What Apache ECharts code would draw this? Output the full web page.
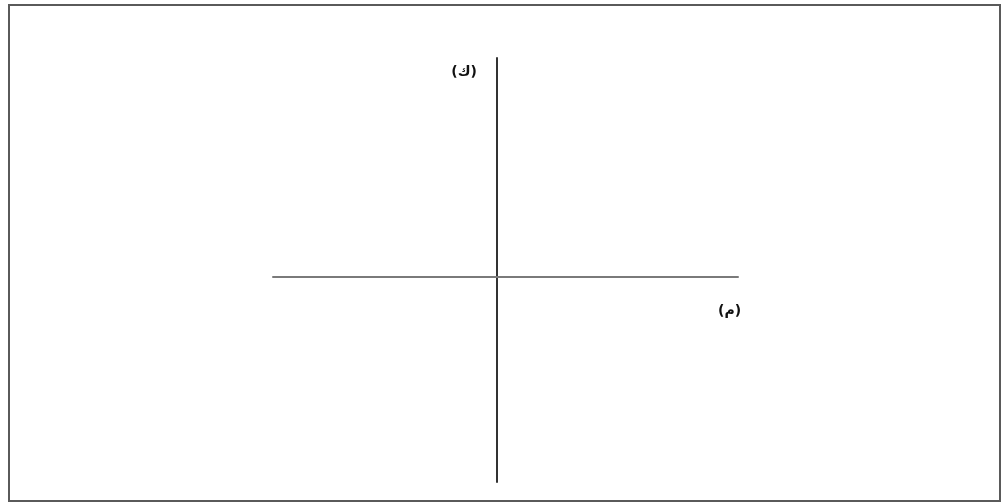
<!DOCTYPE html>
<html>
<head>
<meta charset="utf-8">
<style>
    html, body { margin: 0; padding: 0; background: #fff; }
    #chart { width: 1004px; height: 504px; }
</style>
<script src="https://cdn.jsdelivr.net/npm/echarts@6/dist/echarts.min.js"></script>
</head>
<body>
<div id="chart"></div>
<script>
    // axis extents (the origin sits off-centre in the picture)
    var xRange = [-224, 241];
    var yRange = [-205, 219];
    var xName = '(م)';
    var yName = '(ك)';

    var chart = echarts.init(document.getElementById('chart'));

    chart.setOption({
        backgroundColor: '#fff',
        animation: false,
        grid: {
            left: 273,
            right: 266,
            top: 58,
            bottom: 22
        },
        xAxis: {
            type: 'value',
            min: xRange[0],
            max: xRange[1],
            name: xName,
            nameLocation: 'end',
            nameGap: -20,
            nameTextStyle: {
                fontFamily: 'DejaVu Sans',
                fontWeight: 'bold',
                fontSize: 14,
                color: '#111',
                align: 'left',
                verticalAlign: 'top',
                padding: [27, 0, 0, 0]
            },
            axisLine: { onZero: true, lineStyle: { color: '#7a7a7a', width: 2 } },
            axisTick: { show: false },
            axisLabel: { show: false },
            splitLine: { show: false }
        },
        yAxis: {
            type: 'value',
            min: yRange[0],
            max: yRange[1],
            name: yName,
            nameLocation: 'end',
            nameGap: -14,
            nameTextStyle: {
                fontFamily: 'DejaVu Sans',
                fontWeight: 'bold',
                fontSize: 14,
                color: '#111',
                align: 'right',
                verticalAlign: 'middle',
                padding: [0, 20, 0, 0]
            },
            axisLine: { show: true, onZero: true, lineStyle: { color: '#333', width: 2 } },
            axisTick: { show: false },
            axisLabel: { show: false },
            splitLine: { show: false }
        },
        graphic: [{
            type: 'rect',
            shape: { x: 9, y: 5, width: 991, height: 496 },
            style: { fill: 'none', stroke: '#5a5a5a', lineWidth: 2 },
            silent: true
        }],
        series: []
    });
</script>
</body>
</html>
